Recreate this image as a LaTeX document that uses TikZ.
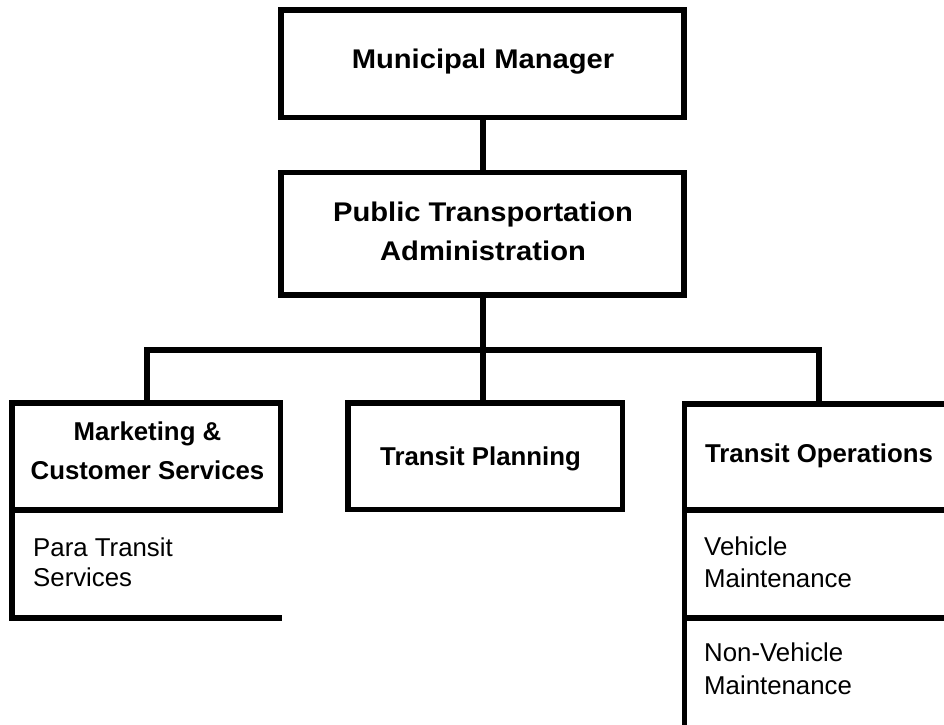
\documentclass[tikz,border=0pt]{standalone}
\usepackage{fontspec}
\setmainfont{Liberation Sans}
\newfontfamily\widefont[FakeStretch=1.08]{Liberation Sans}
\begin{document}
\begin{tikzpicture}[x=1pt,y=-1pt,
  ln/.style={line width=5.5pt},
  box/.style={draw, line width=5.5pt, rectangle, inner sep=0pt, outer sep=0pt},
  headtxt/.style={font=\fontsize{25.8}{39}\selectfont\bfseries, align=center, anchor=base, inner sep=0pt},
  widetxt/.style={font=\fontsize{27}{38.3}\selectfont\widefont\bfseries, align=center, anchor=base, inner sep=0pt},
  subtxt/.style={font=\fontsize{25.8}{31.5}\selectfont, align=left, anchor=base west, inner sep=0pt}]
\useasboundingbox (0,0) rectangle (944,724);
\clip (0,0) rectangle (944,724);
% boxes
\node[box, minimum width=403pt, minimum height=107.5pt] (mm) at (482.5,63.75) {};
\node[box, minimum width=403pt, minimum height=122.5pt] (pta) at (482.5,233.75) {};
\node[box, minimum width=268.5pt, minimum height=107pt] (mkt) at (146.25,456.5) {};
\node[box, minimum width=274.5pt, minimum height=106.5pt] (tp) at (485.25,456.25) {};
% transit operations (cut at the right edge)
\coordinate (opsTL) at (684.5,404);
\coordinate (opsTR) at (950,404);
\coordinate (opsML) at (684.5,510);
\coordinate (opsMR) at (950,510);
\coordinate (opsLL) at (684.5,618);
\coordinate (opsLR) at (950,618);
\coordinate (opsB) at (684.5,730);
\coordinate (opsTop) at (819,404);
\draw[ln] (opsTR) -- (opsTL) -- (opsB);
\draw[ln] (opsML) -- (opsMR);
\draw[ln] (opsLL) -- (opsLR);
% para transit sub-box
\coordinate (paraBR) at (282,618);
\draw[ln] (mkt.south west) |- (paraBR);
% connectors
\coordinate (bus) at (483,350);
\draw[ln] (mm.south -| bus) -- (pta.north -| bus);
\draw[ln] (pta.south -| bus) -- (bus);
\draw[ln] (mkt.north -| 147,0) |- (bus) -| (opsTop);
\draw[ln] (bus) -- (bus |- tp.north);
% texts (base anchor = baseline of the last line)
\node[widetxt] (mmt) at (483,68.3) {Municipal Manager};
\node[widetxt] (ptat) at (483,260) {Public Transportation\\Administration};
\node[headtxt] (mktt) at (147.5,479.5) {Marketing \&\\Customer Services};
\node[headtxt] (tpt) at (480.5,465) {Transit Planning};
\node[headtxt] (opst) at (819,462.5) {Transit Operations};
\node[subtxt, font=\fontsize{25.8}{30}\selectfont] (parat) at (33,586.7) {Para Transit\\Services};
\node[subtxt] (veht) at (704,587) {Vehicle\\Maintenance};
\node[subtxt, font=\fontsize{25.8}{33}\selectfont] (nvt) at (704,694) {Non-Vehicle\\Maintenance};
\end{tikzpicture}
\end{document}
